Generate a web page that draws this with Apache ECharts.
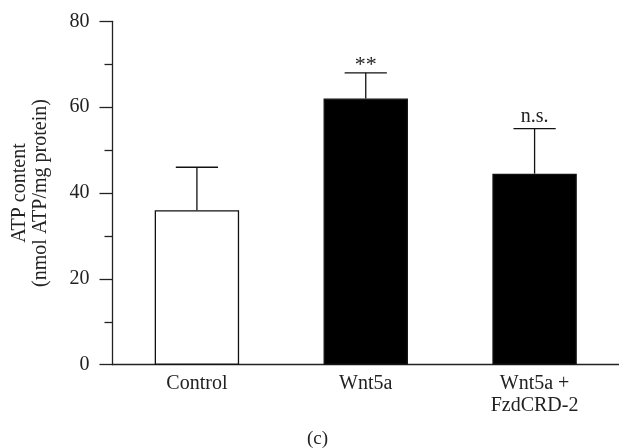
<!DOCTYPE html>
<html>
<head>
<meta charset="utf-8">
<script src="https://cdn.jsdelivr.net/npm/echarts@6/dist/echarts.min.js"></script>
<style>html,body{margin:0;padding:0;background:#fff}#c{width:619px;height:448px}</style>
</head>
<body>
<div id="c"></div>
<script>
var categories = ['Control', 'Wnt5a', 'Wnt5a +\nFzdCRD-2'];
var means = [36, 62, 44.5];
var errors = [10, 6, 10.5];
var annotations = ['', '**', 'n.s.'];
var yTicks = [0, 20, 40, 60, 80];
var fills = ['#ffffff', '#000000', '#000000'];

var FONT = '"Liberation Serif", "Times New Roman", serif';
var chart = echarts.init(document.getElementById('c'));
chart.setOption({
  animation: false,
  backgroundColor: '#fff',
  title: {
    text: '(c)', left: 302, top: 425,
    textStyle: { fontFamily: FONT, fontSize: 19, fontWeight: 'normal', color: '#222' }
  },
  grid: { left: 112.5, right: -8.5, top: 21.3, bottom: 83.3 },
  xAxis: {
    type: 'category',
    data: categories,
    axisLine: { lineStyle: { color: '#222', width: 1.3 } },
    axisTick: { show: false },
    axisLabel: { margin: 8, fontFamily: FONT, fontSize: 20, color: '#222', lineHeight: 22, interval: 0 }
  },
  yAxis: {
    type: 'value',
    min: yTicks[0], max: yTicks[yTicks.length - 1], interval: 20,
    name: 'ATP content\n(nmol ATP/mg protein)',
    nameLocation: 'middle', nameGap: 61, nameRotate: 90,
    nameTextStyle: { fontFamily: FONT, fontSize: 20, color: '#222', lineHeight: 21 },
    axisLine: { show: true, lineStyle: { color: '#222', width: 1.3 } },
    axisTick: { show: true, length: 13, lineStyle: { color: '#222', width: 1.3 } },
    minorTick: { show: true, splitNumber: 2, length: 8, lineStyle: { color: '#222', width: 1.3 } },
    splitLine: { show: false },
    axisLabel: { margin: 23, fontFamily: FONT, fontSize: 20, color: '#222' }
  },
  series: [{
    type: 'bar',
    barWidth: '50%',
    data: means.map(function (v, i) {
      return { value: v, itemStyle: { color: fills[i], borderColor: '#111', borderWidth: 1.3 } };
    }),
    z: 2
  }, {
    type: 'custom',
    data: means.map(function (v, i) { return [i, v, v + errors[i]]; }),
    renderItem: function (params, api) {
      var i = api.value(0);
      var base = api.coord([i, api.value(1)]);
      var top = api.coord([i, api.value(2)]);
      var bw = api.size([1, 0])[0] * 0.25;
      var half = bw / 2;
      var style = { stroke: '#111', lineWidth: 1.3 };
      var txt = annotations[i];
      var lift = txt.indexOf('*') >= 0 ? -3 : 2;
      return {
        type: 'group',
        children: [
          { type: 'line', shape: { x1: base[0], y1: base[1], x2: top[0], y2: top[1] }, style: style },
          { type: 'line', shape: { x1: top[0] - half, y1: top[1], x2: top[0] + half, y2: top[1] }, style: style },
          { type: 'text', style: { text: txt, x: top[0], y: top[1] - lift, align: 'center', verticalAlign: 'bottom',
            fontFamily: FONT, fontSize: txt.indexOf('*') >= 0 ? 22 : 20, fill: '#222' } }
        ]
      };
    },
    z: 3
  }]
});
</script>
</body>
</html>
